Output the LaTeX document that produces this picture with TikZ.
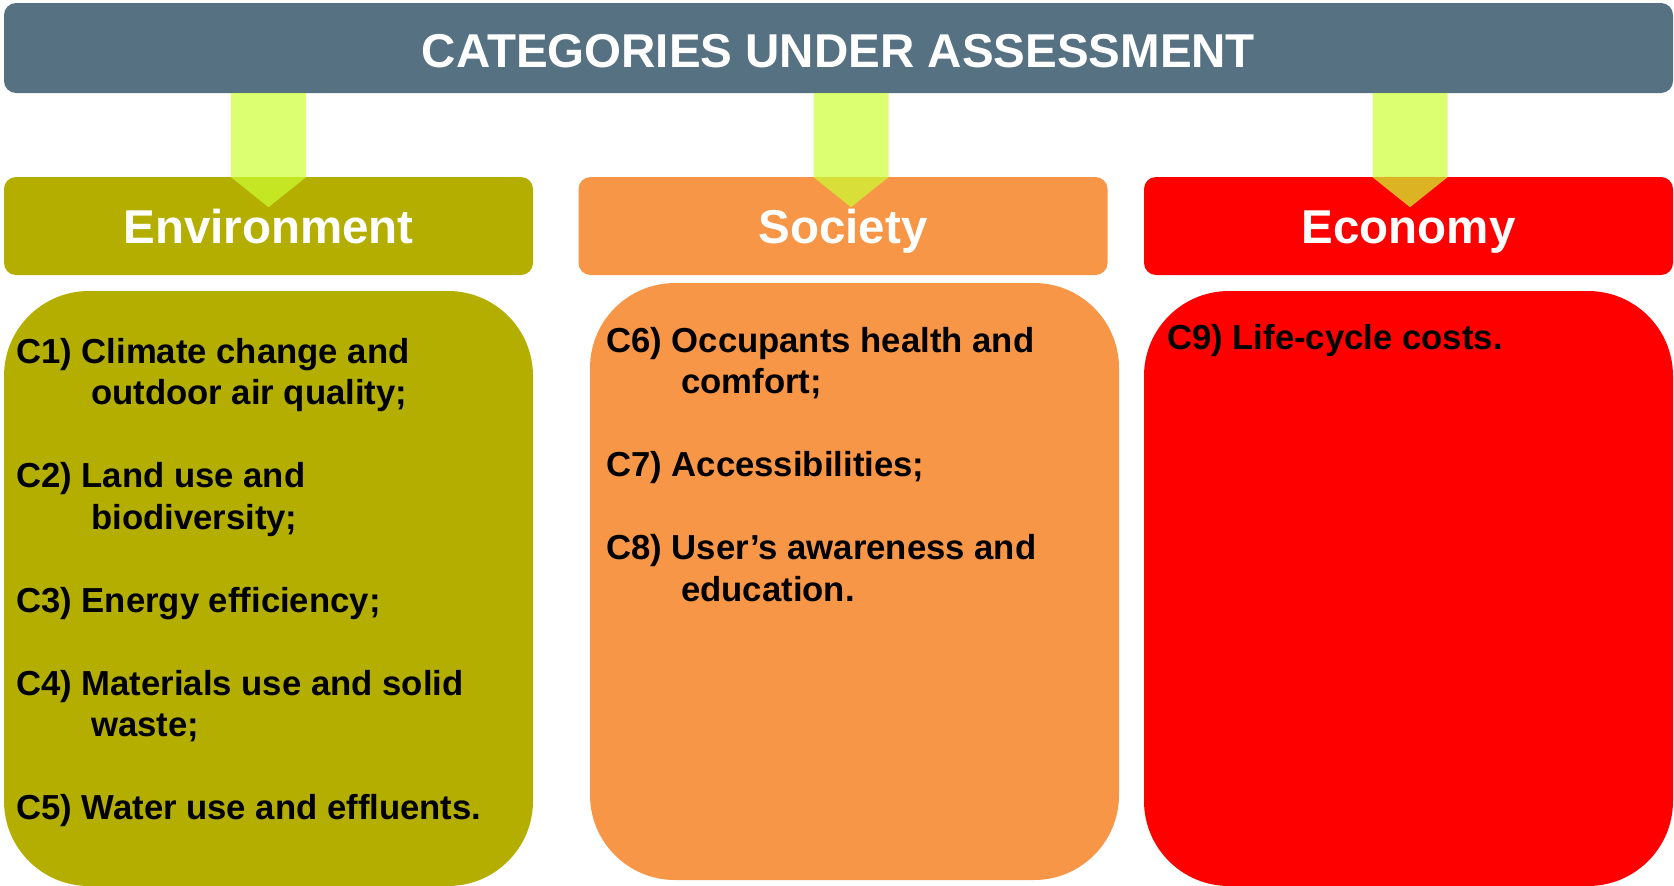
\documentclass[tikz,border=0pt]{standalone}
\usepackage{fontspec}
\setmainfont{Liberation Sans}
\usetikzlibrary{calc}
\definecolor{bannercol}{RGB}{86,113,130}
\definecolor{envcol}{RGB}{179,174,0}
\definecolor{soccol}{RGB}{247,150,70}
\definecolor{ecocol}{RGB}{255,0,0}
\definecolor{arrowcol}{RGB}{204,255,51}
\newcommand{\headfont}{\fontsize{47.5}{50}\selectfont\bfseries}
\newcommand{\listfont}{\fontsize{34.7}{41.5}\selectfont\bfseries}
\newcommand{\catgap}{\\[41.5pt]}
\newcommand{\catindent}{\hspace*{75pt}}
\newcommand{\catarrow}[2]
{   \fill[arrowfill] ($(banner.south -| #1.north)+(#2-37.5,0)$) -- ++(75,0) -- ++(0,84)
      -- ++(-37.5,30) -- ++(-37.5,-30) -- cycle;
}
\tikzset{
  headbox/.style={rounded corners=12pt, minimum width=529pt, minimum height=98pt,
    text=white, font=\headfont, text height=34pt, text depth=0pt, inner sep=0pt},
  listtext/.style={align=left, inner sep=0pt, font=\listfont, anchor=north west},
  arrowfill/.style={fill=arrowcol, fill opacity=0.7}
}

\begin{document}
\begin{tikzpicture}[x=1pt,y=-1pt]
 \useasboundingbox (0,0) rectangle (1674,886);

 % banner
 \node[headbox, fill=bannercol, minimum width=1669pt, minimum height=90pt, text height=38pt]
   (banner) at (838.5,48) {CATEGORIES UNDER ASSESSMENT};

 % category heads
 \node[headbox, fill=envcol] (envhead) at (268.5,226) {Environment};
 \node[headbox, fill=soccol] (sochead) at (843,226) {Society};
 \node[headbox, fill=ecocol] (ecohead) at (1408.5,226) {Economy};

 \catarrow{envhead}{0}
 \catarrow{sochead}{8}
 \catarrow{ecohead}{1.5}

 % lists
 \fill[envcol, rounded corners=85pt] (4,291) rectangle (533,886);
 \fill[soccol, rounded corners=85pt] (590,283) rectangle (1119,880);
 \fill[ecocol, rounded corners=85pt] (1144,291) rectangle (1673,886);

 \node[listtext] (envlist) at (16,338) {C1) Climate change and\\\catindent outdoor air quality;\catgap
   C2) Land use and\\\catindent biodiversity;\catgap
   C3) Energy efficiency;\catgap
   C4) Materials use and solid\\\catindent waste;\catgap
   C5) Water use and effluents.};
 \node[listtext] (soclist) at (606,327) {C6) Occupants health and\\\catindent comfort;\catgap
   C7) Accessibilities;\catgap
   C8) User’s awareness and\\\catindent education.};
 \node[listtext] (ecolist) at (1167,324) {C9) Life-cycle costs.};

\end{tikzpicture}
\end{document}
